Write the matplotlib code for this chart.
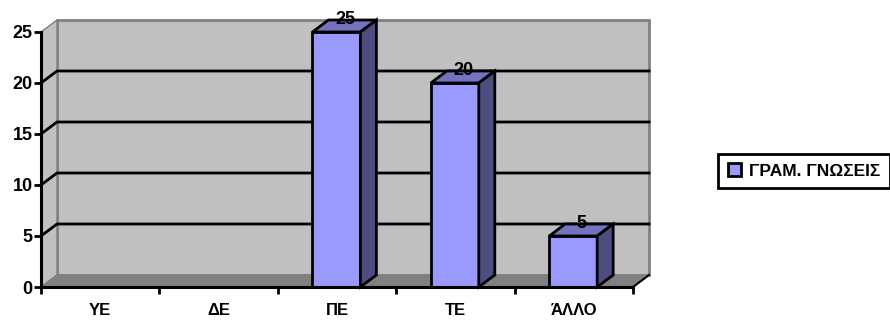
# -*- coding: utf-8 -*-
import matplotlib
matplotlib.use('Agg')
import matplotlib.pyplot as plt
from matplotlib.patches import Polygon

plt.rcParams['font.family'] = ['Liberation Sans', 'DejaVu Sans']
plt.rcParams['font.weight'] = 'bold'

categories = ['ΥΕ', 'ΔΕ', 'ΠΕ', 'ΤΕ', 'ΆΛΛΟ']
values = [0, 0, 25, 20, 5]
value_labels = [None, None, '25', '20', '5']
y_ticks = [0, 5, 10, 15, 20, 25]
series_name = 'ΓΡΑΜ. ΓΝΩΣΕΙΣ'

W, H = 890, 320
fig = plt.figure(figsize=(W/100, H/100), dpi=100)

# front plane of the 3d box, in pixels
left, right, bottom, top = 41, 633, 287, 32
ax = fig.add_axes([left/W, 1-bottom/H, (right-left)/W, (bottom-top)/H])
ax.set_xlim(0, 5)
ax.set_ylim(0, 25)
ax.patch.set_visible(False)

# depth of the box converted to axis units
dx = 16/((right-left)/5)
dy = 12/((bottom-top)/25)


def poly(pts, fc, ec='none', lw=0, z=1):
    ax.add_patch(Polygon(pts, closed=True, facecolor=fc, edgecolor=ec, linewidth=lw,
                         zorder=z, clip_on=False, joinstyle='miter'))


# walls and floor
wall = '#c0c0c0'
edge = '#808080'
poly([(dx, dy), (5+dx, dy), (5+dx, 25+dy), (dx, 25+dy)], wall, edge, 2, 1)
poly([(0, 0), (dx, dy), (dx, 25+dy), (0, 25)], wall, edge, 1, 1)

# grid lines run along the side wall and then the back wall
for t in y_ticks[1:-1]:
    ax.plot([0, dx, 5+dx], [t, t+dy, t+dy], color='black', lw=2, zorder=2,
            clip_on=False, solid_joinstyle='miter')

poly([(0, 0), (5, 0), (5+dx, dy), (dx, dy)], edge, edge, 1, 3)
ax.plot([5, 5+dx], [0, dy], color='black', lw=1.5, zorder=3, clip_on=False)

# bars
bar_w = 0.405
for i, v in enumerate(values):
    if v == 0:
        continue
    x0 = i+0.5-bar_w/2-0.005
    x1 = x0+bar_w
    poly([(x0, 0), (x1, 0), (x1, v), (x0, v)], '#9999ff', 'black', 2, 4)
    poly([(x0, v), (x1, v), (x1+dx, v+dy), (x0+dx, v+dy)], '#7373bf', 'black', 2, 4)
    poly([(x1, 0), (x1+dx, dy), (x1+dx, v+dy), (x1, v)], '#4d4d80', 'black', 2, 4)
    ax.text(i+0.5+dx/2, v+dy, value_labels[i], ha='center', va='center', fontsize=13,
            zorder=6, clip_on=False)

for s in ['top', 'right']:
    ax.spines[s].set_visible(False)
for s in ['left', 'bottom']:
    ax.spines[s].set_linewidth(2.2)
    ax.spines[s].set_zorder(5)

ax.set_yticks(y_ticks)
ax.set_xticks(range(6))
ax.set_xticklabels([])
ax.tick_params(axis='both', length=5, width=2, labelsize=13)
ax.tick_params(axis='y', pad=1)

# category names sit between the tick marks
for i, c in enumerate(categories):
    ax.text(i+0.5, -2.3, c, ha='center', va='center', fontsize=12, clip_on=False)

handle = plt.Rectangle((0, 0), 1, 1, facecolor='#9999ff', edgecolor='black', linewidth=2)
leg = fig.legend([handle], [series_name], loc='center', bbox_to_anchor=(804/W, 1-171/H),
                 fancybox=False, framealpha=1, edgecolor='black', fontsize=12.5,
                 handlelength=0.75, handleheight=0.75, handletextpad=0.45,
                 borderpad=0.55, borderaxespad=0)
leg.get_frame().set_linewidth(2)

fig.savefig('out.png', dpi=100, facecolor='white')
